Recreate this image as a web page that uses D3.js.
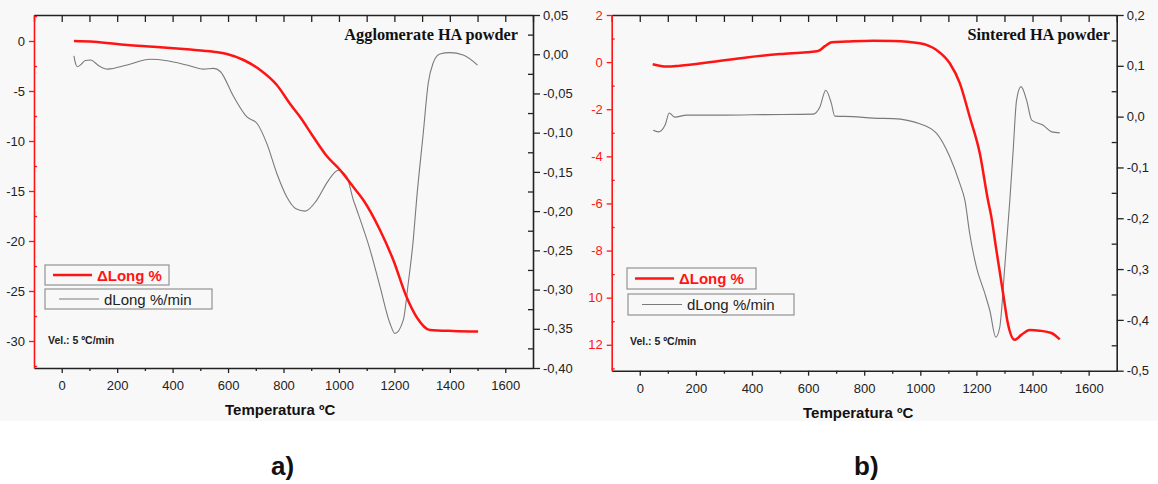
<!DOCTYPE html>
<html>
<head>
<meta charset="utf-8">
<script src="https://cdn.jsdelivr.net/npm/d3@7"></script>
<style>
  html, body { margin: 0; padding: 0; background: #ffffff; }
  svg { display: block; }
  text { font-family: "Liberation Sans", Arial, sans-serif; }
  text.serif { font-family: "Liberation Serif", "Times New Roman", serif; }
</style>
</head>
<body>
<svg id="chart" width="1158" height="484"></svg>
<script>
// ---- Shared axis values ----
const xTicks = [0, 200, 400, 600, 800, 1000, 1200, 1400, 1600];
const xMinor = [-100, 100, 300, 500, 700, 900, 1100, 1300, 1500, 1700];
const xTitle = "Temperatura ºC";
const rateNote = "Vel.: 5 ºC/min";
const legendLong = "ΔLong %";
const legendRate = "dLong %/min";

// ---- Panel a: agglomerate powder ----
const titleA = "Agglomerate HA powder";
const leftTicksA = [0, -5, -10, -15, -20, -25, -30];
const leftMinorA = [2.5, -2.5, -7.5, -12.5, -17.5, -22.5, -27.5, -32.5];
const rightTicksA = [0.05, 0, -0.05, -0.10, -0.15, -0.20, -0.25, -0.30, -0.35, -0.40];
const rightMinorA = [0.025, -0.025, -0.075, -0.125, -0.175, -0.225, -0.275, -0.325, -0.375];

const tempLongA = [44, 116, 236, 331, 452, 548, 596, 656, 716, 776, 824, 860, 908, 956, 1004, 1052, 1088, 1148, 1196, 1244, 1280, 1328, 1412, 1502];
const longA     = [0, -0.07, -0.4, -0.57, -0.83, -1.07, -1.3, -1.9, -2.9, -4.4, -6.3, -7.6, -9.6, -11.5, -12.9, -14.6, -15.9, -18.9, -21.9, -25.6, -27.6, -28.9, -29.0, -29.05];

const tempRateA = [44, 50, 56, 70, 85, 104, 135, 165, 236, 320, 380, 452, 512, 548, 572, 620, 668, 704, 740, 776, 812, 845, 878, 920, 960, 998, 1028, 1052, 1064, 1112, 1148, 1184, 1202, 1232, 1250, 1268, 1280, 1304, 1322, 1340, 1364, 1400, 1448, 1500];
const rateA     = [-0.002, -0.012, -0.016, -0.013, -0.008, -0.0074, -0.015, -0.019, -0.0138, -0.0065, -0.0083, -0.0138, -0.019, -0.018, -0.022, -0.054, -0.080, -0.088, -0.114, -0.152, -0.182, -0.197, -0.200, -0.186, -0.162, -0.148, -0.156, -0.186, -0.198, -0.249, -0.296, -0.343, -0.356, -0.339, -0.292, -0.237, -0.186, -0.101, -0.037, -0.011, 0.0003, 0.002, -0.001, -0.0138];

// ---- Panel b: sintered powder ----
const titleB = "Sintered HA powder";
const leftTicksB = [2, 0, -2, -4, -6, -8, -10, -12];
const leftLabelsB = ["2", "0", "-2", "-4", "-6", "-8", "10", "12"];
const leftMinorB = [1, -1, -3, -5, -7, -9, -11, -13];
const rightTicksB = [0.2, 0.1, 0, -0.1, -0.2, -0.3, -0.4, -0.5];
const rightMinorB = [0.15, 0.05, -0.05, -0.15, -0.25, -0.35, -0.45];

const tempLongB = [46, 96, 143, 262, 381, 500, 595, 636, 660, 684, 737, 832, 903, 998, 1058, 1105, 1141, 1176, 1212, 1241, 1253, 1271, 1295, 1312, 1336, 1360, 1390, 1425, 1467, 1497];
const longB     = [-0.09, -0.19, -0.15, 0.02, 0.2, 0.34, 0.42, 0.47, 0.68, 0.84, 0.87, 0.91, 0.9, 0.8, 0.51, -0.05, -0.9, -2.32, -3.87, -5.85, -6.56, -7.97, -9.81, -11.09, -11.79, -11.58, -11.37, -11.4, -11.5, -11.77];

const tempRateB = [48, 66, 90, 105, 125, 167, 300, 450, 618, 642, 663, 683, 695, 760, 832, 903, 998, 1058, 1105, 1141, 1159, 1176, 1200, 1230, 1248, 1269, 1283, 1301, 1319, 1331, 1343, 1359, 1379, 1397, 1438, 1468, 1497];
const rateB     = [-0.027, -0.030, -0.017, 0.007, -0.001, 0.003, 0.003, 0.004, 0.005, 0.019, 0.052, 0.026, 0.001, 0.000, -0.003, -0.004, -0.014, -0.033, -0.079, -0.132, -0.165, -0.230, -0.296, -0.348, -0.382, -0.434, -0.415, -0.296, -0.165, -0.066, 0.032, 0.059, 0.032, -0.007, -0.017, -0.030, -0.032];

const RED = "#ff1414";
const GREY = "#7a7a7a";
const INK = "#222222";

const svg = d3.select("#chart");

// grainy light backdrop of the two plots
svg.append("rect").attr("x", 0).attr("y", 0).attr("width", 1158).attr("height", 421).attr("fill", "#f8f8f8");

const comma = (fmt) => (v) => d3.format(fmt)(v).replace(".", ",").replace("−", "-");

function drawPanel(p) {
  const g = svg.append("g");
  const x = d3.scaleLinear().domain([-100, 1700]).range([p.left, p.right]);
  const yL = d3.scaleLinear().domain(p.leftDomain).range([p.bottom, p.top]);
  const yR = d3.scaleLinear().domain(p.rightDomain).range([p.bottom, p.top]);

  const style = (sel, color) => {
    sel.select(".domain").attr("stroke", color).attr("stroke-width", 1.6);
    sel.selectAll(".tick line").attr("stroke", color).attr("stroke-width", 1.3);
    sel.selectAll(".tick text").attr("font-size", 13);
  };

  // top axis: inward ticks every 100
  const top = g.append("g").attr("transform", `translate(0,${p.top})`)
    .call(d3.axisTop(x).tickValues(xTicks.concat(xMinor)).tickSizeInner(-7).tickSizeOuter(0).tickFormat(""));
  style(top, INK);

  // bottom axis
  const bot = g.append("g").attr("transform", `translate(0,${p.bottom})`)
    .call(d3.axisBottom(x).tickValues(xTicks).tickSizeInner(5).tickSizeOuter(0).tickPadding(8).tickFormat(d3.format("d")));
  style(bot, INK);
  bot.selectAll(".tick text").attr("fill", INK);
  const botMinor = g.append("g").attr("transform", `translate(0,${p.bottom})`)
    .call(d3.axisBottom(x).tickValues(xMinor.slice(1, -1)).tickSizeInner(3).tickSizeOuter(0).tickFormat(""));
  style(botMinor, INK);
  botMinor.select(".domain").remove();

  // left axis
  const left = g.append("g").attr("transform", `translate(${p.left},0)`)
    .call(d3.axisLeft(yL).tickValues(p.leftTicks).tickSizeInner(5).tickSizeOuter(0).tickPadding(4)
      .tickFormat((d, i) => p.leftLabels ? p.leftLabels[i] : String(d)));
  style(left, RED);
  left.selectAll(".tick text").attr("fill", p.leftLabelColor);
  const leftMinor = g.append("g").attr("transform", `translate(${p.left},0)`)
    .call(d3.axisLeft(yL).tickValues(p.leftMinor).tickSizeInner(-3).tickSizeOuter(0).tickFormat(""));
  style(leftMinor, RED);
  leftMinor.select(".domain").remove();

  // right axis
  const right = g.append("g").attr("transform", `translate(${p.right},0)`)
    .call(d3.axisRight(yR).tickValues(p.rightTicks).tickSizeInner(7).tickSizeOuter(0).tickPadding(3).tickFormat(p.rightFormat));
  style(right, INK);
  right.selectAll(".tick text").attr("fill", INK);
  const rightMinor = g.append("g").attr("transform", `translate(${p.right},0)`)
    .call(d3.axisRight(yR).tickValues(p.rightMinor).tickSizeInner(-5).tickSizeOuter(0).tickFormat(""));
  style(rightMinor, INK);
  rightMinor.select(".domain").remove();

  // curves
  const rateLine = d3.line().x(d => x(d[0])).y(d => yR(d[1])).curve(d3.curveMonotoneX);
  const longLine = d3.line().x(d => x(d[0])).y(d => yL(d[1])).curve(d3.curveMonotoneX);
  g.append("path").datum(d3.zip(p.tempRate, p.rate)).attr("d", rateLine)
    .attr("fill", "none").attr("stroke", GREY).attr("stroke-width", 1.1);
  g.append("path").datum(d3.zip(p.tempLong, p.long)).attr("d", longLine)
    .attr("fill", "none").attr("stroke", RED).attr("stroke-width", 2.5).attr("stroke-linejoin", "round");

  // title inside plot
  g.append("text").attr("class", "serif").attr("x", p.titleX).attr("y", 40).attr("text-anchor", "end")
    .attr("font-weight", "bold").attr("font-size", 16.3).attr("fill", "#111").text(p.title);

  // legend
  const L = p.legend;
  g.append("rect").attr("x", L.x1).attr("y", L.y1).attr("width", L.w1).attr("height", L.h)
    .attr("fill", "none").attr("stroke", "#9a9a9a").attr("stroke-width", 1.3);
  g.append("line").attr("x1", L.x1 + 8).attr("x2", L.x1 + 47).attr("y1", L.y1 + L.h / 2).attr("y2", L.y1 + L.h / 2)
    .attr("stroke", RED).attr("stroke-width", 2.5);
  g.append("text").attr("x", L.x1 + 52).attr("y", L.y1 + L.h / 2 + 5.5).attr("font-size", 15).attr("font-weight", "bold")
    .attr("fill", RED).text(legendLong);
  g.append("rect").attr("x", L.x2).attr("y", L.y2).attr("width", L.w2).attr("height", L.h)
    .attr("fill", "none").attr("stroke", "#9a9a9a").attr("stroke-width", 1.3);
  g.append("line").attr("x1", L.x2 + 14).attr("x2", L.x2 + 54).attr("y1", L.y2 + L.h / 2).attr("y2", L.y2 + L.h / 2)
    .attr("stroke", GREY).attr("stroke-width", 1);
  g.append("text").attr("x", L.x2 + 59).attr("y", L.y2 + L.h / 2 + 5.5).attr("font-size", 15)
    .attr("fill", INK).text(legendRate);

  // heating rate note
  g.append("text").attr("x", p.noteX).attr("y", p.noteY).attr("font-size", 10.5).attr("font-weight", "bold")
    .attr("fill", INK).text(rateNote);

  // x axis title
  g.append("text").attr("x", p.xTitleX).attr("y", p.xTitleY).attr("font-size", 15).attr("font-weight", "bold")
    .attr("fill", "#111").text(xTitle);

  // panel tag
  svg.append("text").attr("x", p.tagX).attr("y", 475).attr("font-size", 26).attr("font-weight", "bold")
    .attr("fill", "#111").text(p.tag);
}

drawPanel({
  left: 34, right: 533, top: 15, bottom: 368,
  leftDomain: [-32.7, 2.6], rightDomain: [-0.40, 0.05],
  leftTicks: leftTicksA, leftMinor: leftMinorA, leftLabelColor: INK,
  rightTicks: rightTicksA, rightMinor: rightMinorA, rightFormat: comma(".2f"),
  tempLong: tempLongA, long: longA, tempRate: tempRateA, rate: rateA,
  title: titleA, titleX: 518,
  legend: { x1: 45, y1: 265, w1: 124, x2: 45, y2: 289, w2: 167, h: 20 },
  noteX: 48, noteY: 344, xTitleX: 225, xTitleY: 415,
  tag: "a)", tagX: 271
});

drawPanel({
  left: 611.7, right: 1116.7, top: 15, bottom: 370.7,
  leftDomain: [-13.1, 2], rightDomain: [-0.5, 0.2],
  leftTicks: leftTicksB, leftLabels: leftLabelsB, leftMinor: leftMinorB, leftLabelColor: RED,
  rightTicks: rightTicksB, rightMinor: rightMinorB, rightFormat: comma(".1f"),
  tempLong: tempLongB, long: longB, tempRate: tempRateB, rate: rateB,
  title: titleB, titleX: 1110,
  legend: { x1: 627, y1: 268, w1: 129, x2: 628, y2: 294, w2: 166, h: 21 },
  noteX: 630, noteY: 345, xTitleX: 803, xTitleY: 418,
  tag: "b)", tagX: 854
});
</script>
</body>
</html>
